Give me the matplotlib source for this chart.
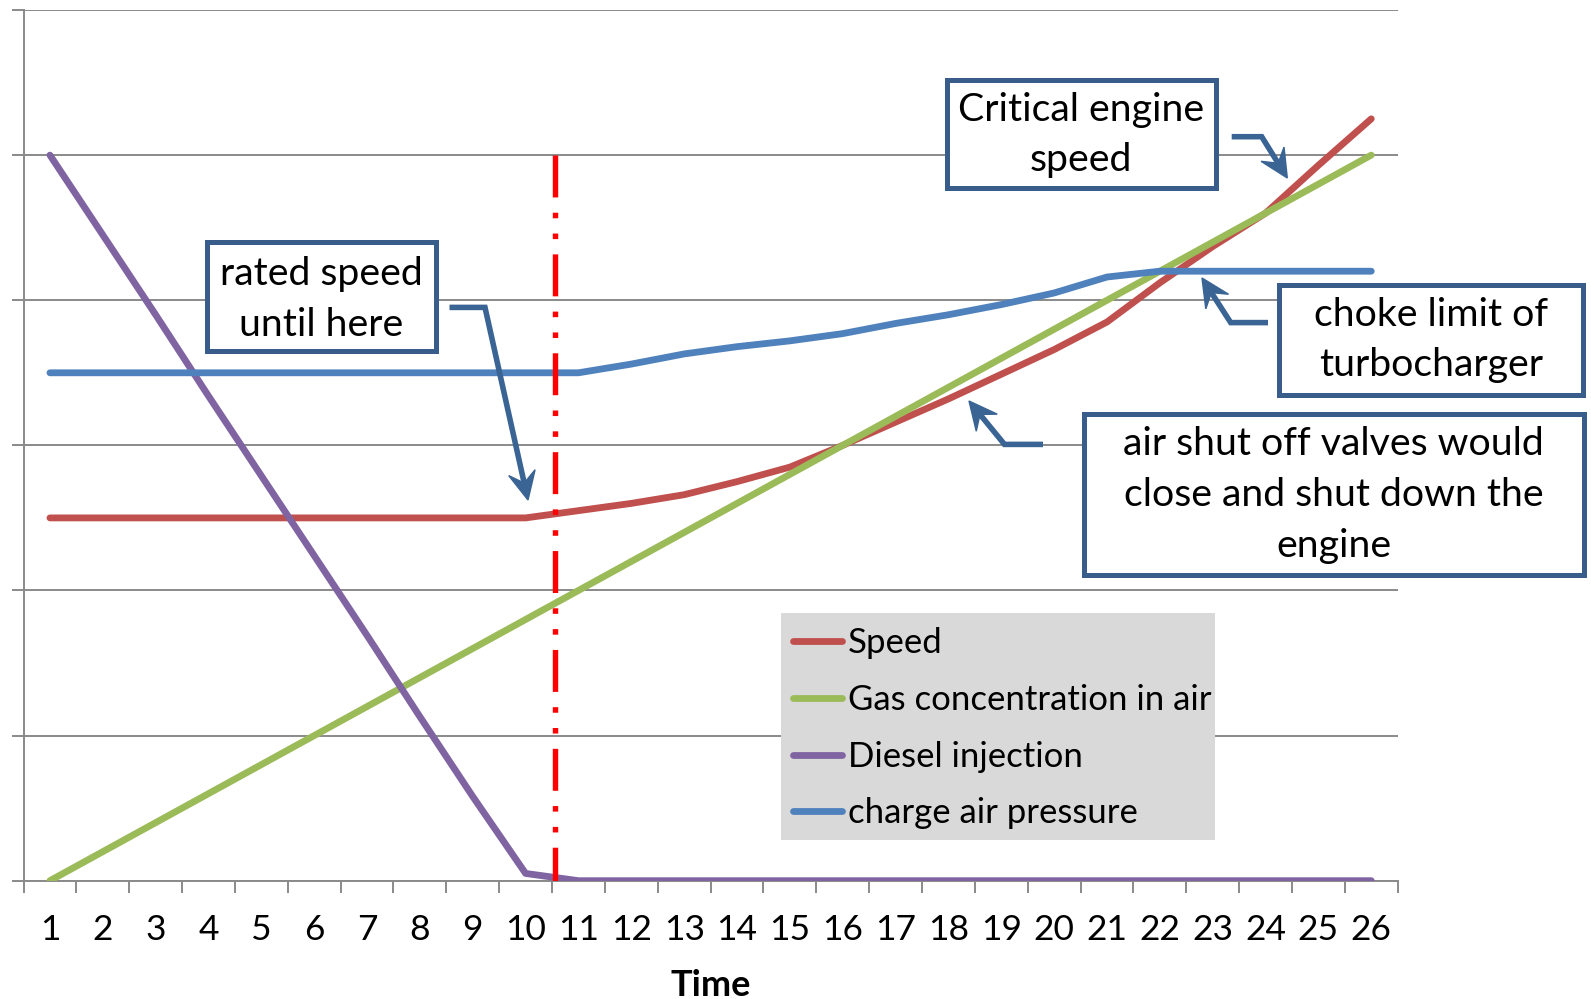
import matplotlib
matplotlib.use('Agg')
import matplotlib.pyplot as plt
from matplotlib.patches import Rectangle, Polygon
from matplotlib.lines import Line2D
from matplotlib.ticker import FixedLocator, NullFormatter
import numpy as np

# ---------------- data ----------------
time = [1, 2, 3, 4, 5, 6, 7, 8, 9, 10, 11, 12, 13, 14, 15, 16, 17, 18, 19, 20, 21, 22, 23, 24, 25, 26]
speed = [2.5, 2.5, 2.5, 2.5, 2.5, 2.5, 2.5, 2.5, 2.5, 2.5,
         2.55, 2.6, 2.66, 2.75, 2.85, 3.0, 3.16, 3.32, 3.49, 3.66, 3.85, 4.12, 4.37, 4.6, 4.93, 5.25]
gas = [0.0, 0.2, 0.4, 0.6, 0.8, 1.0, 1.2, 1.4, 1.6, 1.8, 2.0, 2.2, 2.4,
       2.6, 2.8, 3.0, 3.2, 3.4, 3.6, 3.8, 4.0, 4.2, 4.4, 4.6, 4.8, 5.0]
diesel = [5.0, 4.45, 3.9, 3.34, 2.79, 2.24, 1.69, 1.13, 0.58, 0.05,
          0.0, 0.0, 0.0, 0.0, 0.0, 0.0, 0.0, 0.0, 0.0, 0.0, 0.0, 0.0, 0.0, 0.0, 0.0, 0.0]
charge = [3.5, 3.5, 3.5, 3.5, 3.5, 3.5, 3.5, 3.5, 3.5, 3.5, 3.5,
          3.56, 3.63, 3.68, 3.72, 3.77, 3.84, 3.9, 3.97, 4.05, 4.16, 4.2, 4.2, 4.2, 4.2, 4.2]
series_names = ["Speed", "Gas concentration in air", "Diesel injection", "charge air pressure"]
cutoff_x = 10.55
cutoff_top = 5.0
cutoff_bottom = 0.0
y_gridlines = [0, 1, 2, 3, 4, 5, 6]

# ---------------- styling ----------------
W, H = 1591, 999
FONT = ['Lato', 'DejaVu Sans']
plt.rcParams['font.family'] = FONT
plt.rcParams['lines.scale_dashes'] = False

C_SPEED = '#C0504D'
C_GAS = '#9BBB59'
C_DIESEL = '#8064A2'
C_CHARGE = '#4F81BD'
C_BOX = '#385D8A'
C_ARROW = '#3A6494'
C_GRID = '#8A8A8A'

fig = plt.figure(figsize=(W / 100, H / 100), dpi=100)
ax_left, ax_right, ax_top, ax_bottom = 23.5, 1397.7, 10.0, 880.7
ax = fig.add_axes([ax_left / W, 1 - ax_bottom / H, (ax_right - ax_left) / W, (ax_bottom - ax_top) / H])

LW = 4.9
common = dict(linewidth=LW, solid_capstyle='round', solid_joinstyle='round')
l_speed, = ax.plot(time, speed, color=C_SPEED, zorder=3, **common)
l_gas, = ax.plot(time, gas, color=C_GAS, zorder=4, **common)
l_diesel, = ax.plot(time, diesel, color=C_DIESEL, zorder=5, **common)
l_charge, = ax.plot(time, charge, color=C_CHARGE, zorder=6, **common)

ax.plot([cutoff_x, cutoff_x], [cutoff_top, cutoff_bottom], color='#FF0000', linewidth=3.9,
        linestyle=(0, (30.2, 11.0, 4.0, 11.0, 4.0, 11.0)), dash_capstyle='butt', zorder=7)

ax.set_xlim(0.5, 26.5)
ax.set_ylim(0, 6)
ax.set_xticks(time)
ax.set_xticklabels([str(t) for t in time])
ax.xaxis.set_minor_locator(FixedLocator([t - 0.5 for t in time] + [26.5]))
ax.tick_params(axis='x', which='major', length=0, pad=24, labelsize=25.5, labelcolor='black')
ax.tick_params(axis='x', which='minor', length=8.6, width=1.4, color=C_GRID, direction='out')
ax.set_yticks(y_gridlines)
ax.yaxis.set_major_formatter(NullFormatter())
ax.tick_params(axis='y', which='major', length=8.4, width=1.4, color=C_GRID, direction='out')
ax.grid(axis='y', color=C_GRID, linewidth=1.4, zorder=0)
ax.set_axisbelow(True)
for s in ['top', 'right']:
    ax.spines[s].set_visible(False)
for s in ['left', 'bottom']:
    ax.spines[s].set_color(C_GRID)
    ax.spines[s].set_linewidth(1.4)

ax.set_xlabel('Time', fontsize=26, fontweight='bold', color='black')
ax.xaxis.set_label_coords(0.5, -0.101)


# ---------------- helpers for pixel layout (y measured from top) ----------------
def fx(px):
    return px / W


def fy(py):
    return 1 - py / H


# legend: grey panel + legend entries
leg_x0, leg_y0, leg_x1, leg_y1 = 781.3, 612.8, 1214.5, 840.1
ax.add_patch(Rectangle((fx(leg_x0), fy(leg_y1)), (leg_x1 - leg_x0) / W, (leg_y1 - leg_y0) / H,
                       transform=fig.transFigure, facecolor='#D9D9D9', edgecolor='none',
                       zorder=9, clip_on=False))
leg = ax.legend([l_speed, l_gas, l_diesel, l_charge], series_names,
                loc='upper left', bbox_to_anchor=(fx(778.5), fy(leg_y0)), bbox_transform=fig.transFigure,
                frameon=False, fontsize=25, borderaxespad=0, borderpad=0.42, handlelength=1.42,
                handletextpad=0.17, labelspacing=0.71)
for h in leg.get_lines():
    h.set_linewidth(LW)
    h.set_solid_capstyle('round')
leg.set_zorder(10)


def box(x0, y0, x1, y1, lines, baselines, size=28.3):
    fig.add_artist(Rectangle((fx(x0), fy(y1)), (x1 - x0) / W, (y1 - y0) / H, transform=fig.transFigure,
                             facecolor='white', edgecolor=C_BOX, linewidth=3.6, zorder=20))
    cx = (x0 + x1) / 2
    for t, b in zip(lines, baselines):
        fig.text(fx(cx), fy(b), t, ha='center', va='baseline', fontsize=size, color='black', zorder=21)


def arrow(pts, L=28, w=27):
    P = np.array([[x, H - y] for x, y in pts], dtype=float)
    T = P[-1]
    d = T - P[-2]
    d = d / np.hypot(*d)
    n = np.array([-d[1], d[0]])
    line_pts = P.copy()
    line_pts[-1] = T - 0.6 * L * d
    fig.add_artist(Line2D(line_pts[:, 0] / W, line_pts[:, 1] / H, transform=fig.transFigure,
                          color=C_ARROW, linewidth=4.0, solid_joinstyle='miter', solid_capstyle='butt', zorder=22))
    head = np.array([T, T - L * d + w / 2 * n, T - 0.62 * L * d, T - L * d - w / 2 * n])
    head[:, 0] /= W
    head[:, 1] /= H
    fig.add_artist(Polygon(head, closed=True, transform=fig.transFigure, facecolor=C_ARROW,
                           edgecolor=C_ARROW, linewidth=1, zorder=22))


box(207, 242, 436, 351, ['rated speed', 'until here'], [285, 336])
arrow([(449.5, 307.4), (485, 307.4), (528, 500)])

box(946.6, 80, 1215.5, 187.7, ['Critical engine', 'speed'], [121, 171])
arrow([(1231.7, 136.7), (1261.7, 136.7), (1287.3, 178)])

box(1279.4, 285, 1582.8, 394.7, ['choke limit of', 'turbocharger'], [326, 376])
arrow([(1268, 322.6), (1230.7, 322.6), (1202, 278)])

box(1083.6, 414, 1583.8, 575.3, ['air shut off valves would', 'close and shut down the', 'engine'],
    [455, 506, 557])
arrow([(1043, 444.4), (1004.5, 444.4), (969, 401)])

fig.savefig('out.png', dpi=100, facecolor='white')
